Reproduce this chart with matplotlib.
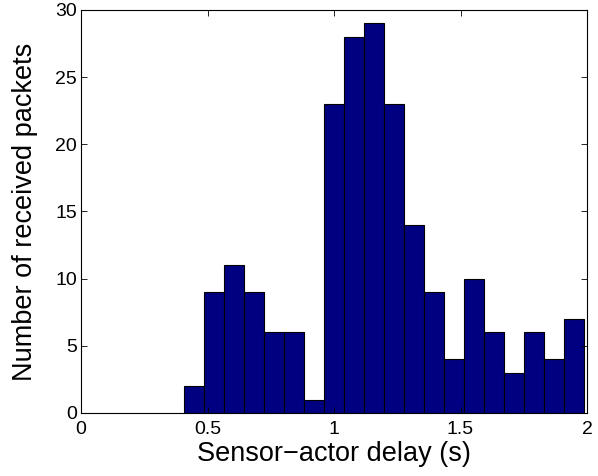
import numpy as np
import matplotlib
matplotlib.use("Agg")
import matplotlib.pyplot as plt

plt.rcParams['font.family'] = ['Liberation Sans', 'DejaVu Sans']

# Histogram data (20 bins)
bin_lo = 0.409
bin_hi = 1.989
counts = [2, 9, 11, 9, 6, 6, 1, 23, 28, 29, 23, 14, 9, 4, 10, 6, 3, 6, 4, 7]
xticks = [0, 0.5, 1, 1.5, 2]
xtick_labels = ['0', '0.5', '1', '1.5', '2']
yticks = [0, 5, 10, 15, 20, 25, 30]

edges = np.linspace(bin_lo, bin_hi, len(counts) + 1)
widths = np.diff(edges)

fig = plt.figure(figsize=(5.98, 4.76), dpi=100)
ax = fig.add_axes([0.1355, 0.1324, 0.9816 - 0.1355, 0.979 - 0.1324])
ax.bar(edges[:-1], counts, width=widths, align='edge', color='#000080',
       edgecolor='black', linewidth=0.8)
ax.set_xlim(0, 2)
ax.set_ylim(0, 30)
ax.set_xticks(xticks)
ax.set_xticklabels(xtick_labels)
ax.set_yticks(yticks)
ax.tick_params(direction='in', top=True, right=True, labelsize=14, length=4, width=0.6)
ax.tick_params(axis='x', pad=6)
ax.tick_params(axis='y', pad=3)
for s in ax.spines.values():
    s.set_linewidth(0.8)
ax.set_xlabel('Sensor\u2212actor delay (s)', fontsize=19.5, labelpad=2)
ax.set_ylabel('Number of received packets', fontsize=19.5, labelpad=12)
fig.savefig('out.png', dpi=100)
